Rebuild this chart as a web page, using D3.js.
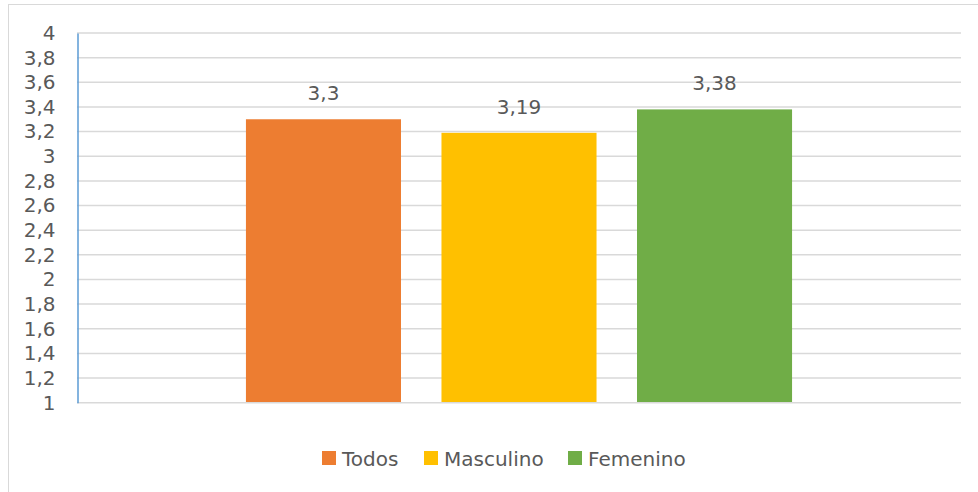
<!DOCTYPE html>
<html>
<head>
<meta charset="utf-8">
<script src="https://cdn.jsdelivr.net/npm/d3@7"></script>
<style>
  body { margin: 0; background: #fff; }
  svg text { font-family: "DejaVu Sans", sans-serif; fill: #595959; }
</style>
</head>
<body>
<div id="chart"></div>
<script>
const WIDTH = 978
const HEIGHT = 492

const MARGIN = { TOP: 33, BOTTOM: 90, LEFT: 77, RIGHT: 17 }

const series = ["Todos", "Masculino", "Femenino"]
const values = [3.3, 3.19, 3.38]
const colors = ["#ED7D31", "#FFC000", "#70AD47"]
const yTicks = [1, 1.2, 1.4, 1.6, 1.8, 2, 2.2, 2.4, 2.6, 2.8, 3, 3.2, 3.4, 3.6, 3.8, 4]

const fmt = v => String(v).replace(".", ",")

const svg = d3.select("#chart")
    .append("svg")
    .attr("width", WIDTH)
    .attr("height", HEIGHT)

// outer chart border
svg.append("rect")
    .attr("x", 8.5)
    .attr("y", 4.5)
    .attr("width", WIDTH + 10)
    .attr("height", HEIGHT + 10)
    .attr("fill", "none")
    .attr("stroke", "#D9D9D9")
    .attr("stroke-width", 1)

const x0 = MARGIN.LEFT
const x1 = WIDTH - MARGIN.RIGHT
const y0 = HEIGHT - MARGIN.BOTTOM + 0.5

const y = d3.scaleLinear()
    .domain([1, 4])
    .range([y0 - 0.5 + 0.7, MARGIN.TOP])

const x = d3.scaleBand()
    .domain(series)
    .range([x0, x1])
    .paddingInner(0.207)
    .paddingOuter(0.864)

// gridlines
svg.append("g")
    .selectAll("line")
    .data(yTicks.slice(1))
    .join("line")
    .attr("x1", x0)
    .attr("x2", x1)
    .attr("y1", d => y(d))
    .attr("y2", d => y(d))
    .attr("stroke", "#D9D9D9")
    .attr("stroke-width", 1.5)

// bars
svg.append("g")
    .selectAll("rect")
    .data(values)
    .join("rect")
    .attr("x", (d, i) => x(series[i]))
    .attr("width", x.bandwidth())
    .attr("y", d => y(d))
    .attr("height", d => y(1) - y(d))
    .attr("fill", (d, i) => colors[i])

// bottom axis line
svg.append("line")
    .attr("x1", x0)
    .attr("x2", x1)
    .attr("y1", y(1))
    .attr("y2", y(1))
    .attr("stroke", "#D9D9D9")
    .attr("stroke-width", 1.5)

// y axis
const yAxis = d3.axisLeft(y)
    .tickValues(yTicks)
    .tickFormat(fmt)
    .tickSize(0)
    .tickPadding(22)

svg.append("g")
    .attr("transform", `translate(${x0 + 0.5},0)`)
    .call(yAxis)
    .call(g => g.select(".domain").attr("stroke", "#5B9BD5").attr("stroke-width", 1.5))
    .call(g => g.selectAll("text")
        .attr("font-size", 20)
        .attr("font-family", "DejaVu Sans")
        .attr("fill", "#595959"))

// data labels
svg.append("g")
    .selectAll("text")
    .data(values)
    .join("text")
    .attr("x", (d, i) => x(series[i]) + x.bandwidth() / 2)
    .attr("y", d => y(d) - 19)
    .attr("text-anchor", "middle")
    .attr("font-size", 20)
    .text(d => fmt(d))

// legend
const legendX = [322, 424, 568]
const legend = svg.append("g")
    .selectAll("g")
    .data(series)
    .join("g")
    .attr("transform", (d, i) => `translate(${legendX[i]},451)`)

legend.append("rect")
    .attr("width", 14)
    .attr("height", 14)
    .attr("fill", (d, i) => colors[i])

legend.append("text")
    .attr("x", 20)
    .attr("y", 14.5)
    .attr("font-size", 20)
    .text(d => d)
</script>
</body>
</html>
